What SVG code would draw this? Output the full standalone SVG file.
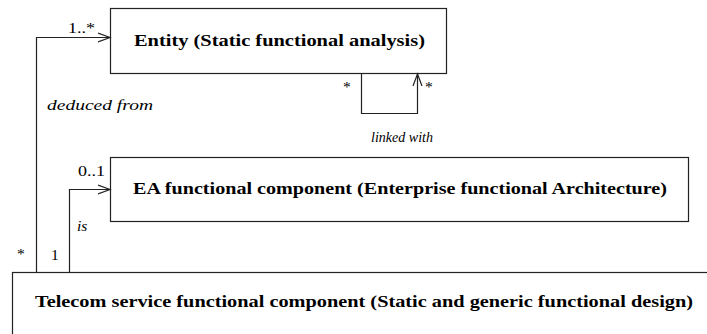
<svg xmlns="http://www.w3.org/2000/svg" width="707" height="334" viewBox="0 0 707 334">
<style>
.box{fill:#fff;stroke:#222;stroke-width:1.2}
.t{font-family:'Liberation Serif','Times New Roman','DejaVu Serif',serif;font-weight:bold;font-size:16.5px;fill:#000}
.l{font-family:'Liberation Serif','Times New Roman','DejaVu Serif',serif;font-size:15.5px;fill:#000}
.i{font-style:italic}
.c{fill:none;stroke:#222;stroke-width:1.2}
</style>
<defs>
<marker id="open" markerWidth="14" markerHeight="14" refX="12" refY="7" orient="auto" markerUnits="userSpaceOnUse">
<path d="M0,2.5 L12,7 L0,11.5" fill="none" stroke="#222" stroke-width="1.2"/>
</marker>
</defs>
<g id="entity">
<rect class="box" x="110.5" y="8.5" width="336" height="65"/>
<text class="t" x="134" y="46" textLength="291" lengthAdjust="spacingAndGlyphs">Entity (Static functional analysis)</text>
</g>
<g id="ea">
<rect class="box" x="110.5" y="157.5" width="578" height="64"/>
<text class="t" x="133" y="194" textLength="534" lengthAdjust="spacingAndGlyphs">EA functional component (Enterprise functional Architecture)</text>
</g>
<g id="telecom">
<rect class="box" x="12.5" y="272.5" width="720" height="80"/>
<text class="t" x="35" y="307" textLength="658" lengthAdjust="spacingAndGlyphs">Telecom service functional component (Static and generic functional design)</text>
</g>
<g id="connectors">
<polyline class="c" points="36.5,272 36.5,37.5 110,37.5" marker-end="url(#open)"/>
<polyline class="c" points="361.5,74 361.5,113.5 417.5,113.5 417.5,74" marker-end="url(#open)"/>
<polyline class="c" points="69.5,272 69.5,189.5 110,189.5" marker-end="url(#open)"/>
<text class="l" x="68" y="33" textLength="27" lengthAdjust="spacingAndGlyphs">1..*</text>
<text class="l i" x="47" y="110" textLength="106" lengthAdjust="spacingAndGlyphs">deduced from</text>
<text class="l" x="343" y="92">*</text>
<text class="l" x="425" y="92">*</text>
<text class="l i" x="371" y="142" textLength="62" lengthAdjust="spacingAndGlyphs">linked with</text>
<text class="l" x="78" y="176" textLength="27" lengthAdjust="spacingAndGlyphs">0..1</text>
<text class="l i" x="77" y="231">is</text>
<text class="l" x="17" y="259">*</text>
<text class="l" x="51" y="260">1</text>
</g>
</svg>
